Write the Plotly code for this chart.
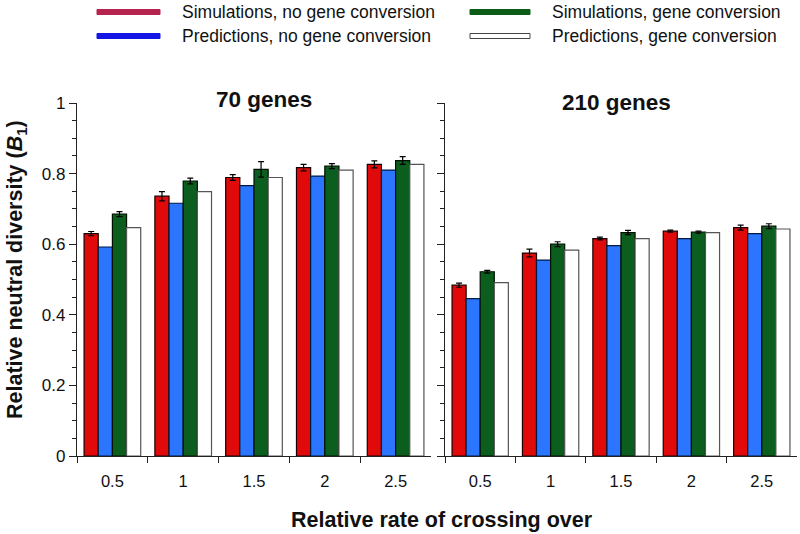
import plotly.graph_objects as go

categories = ["0.5", "1", "1.5", "2", "2.5"]

# 70 genes panel
sim_noGC_70 = [0.630, 0.736, 0.789, 0.817, 0.826]
sim_noGC_70_err = [0.006, 0.013, 0.008, 0.009, 0.010]
pred_noGC_70 = [0.592, 0.716, 0.766, 0.793, 0.810]
sim_GC_70 = [0.685, 0.779, 0.812, 0.821, 0.837]
sim_GC_70_err = [0.007, 0.008, 0.022, 0.007, 0.011]
pred_GC_70 = [0.647, 0.749, 0.789, 0.810, 0.826]

# 210 genes panel
sim_noGC_210 = [0.484, 0.575, 0.616, 0.637, 0.647]
sim_noGC_210_err = [0.006, 0.011, 0.004, 0.003, 0.007]
pred_noGC_210 = [0.446, 0.555, 0.596, 0.616, 0.630]
sim_GC_210 = [0.522, 0.600, 0.633, 0.634, 0.651]
sim_GC_210_err = [0.004, 0.007, 0.006, 0.003, 0.007]
pred_GC_210 = [0.491, 0.583, 0.616, 0.633, 0.643]

legend_labels = ["Simulations, no gene conversion", "Predictions, no gene conversion",
                 "Simulations, gene conversion", "Predictions, gene conversion"]

RED = "#E00A0A"
BLUE = "#2B75FF"
GREEN = "#0B5E1E"
WHITE = "#FFFFFF"
FONT = "Liberation Sans, Arial, sans-serif"

W, H = 800, 534
TOP, BOT = 103, 456  # pixel rows of y=1 and y=0


def px_x(p):
    return p / W


def px_y(p):
    return (BOT - p) / (BOT - TOP)


fig = go.Figure()


def add_panel(xa, ya, simn, simn_e, predn, simg, simg_e, predg):
    specs = [
        (simn, simn_e, RED, "#1a0000"),
        (predn, None, BLUE, "#001a40"),
        (simg, simg_e, GREEN, "#001000"),
        (predg, None, WHITE, "#555555"),
    ]
    for vals, err, col, lc in specs:
        kw = {}
        if err is not None:
            kw["error_y"] = dict(type="data", array=err, visible=True,
                                 color="#000000", thickness=1.2, width=3)
        fig.add_trace(go.Bar(x=categories, y=vals, xaxis=xa, yaxis=ya,
                             marker=dict(color=col, line=dict(color=lc, width=1.2)),
                             showlegend=False, hoverinfo="y", **kw))


add_panel("x", "y", sim_noGC_70, sim_noGC_70_err, pred_noGC_70,
          sim_GC_70, sim_GC_70_err, pred_GC_70)
add_panel("x2", "y2", sim_noGC_210, sim_noGC_210_err, pred_noGC_210,
          sim_GC_210, sim_GC_210_err, pred_GC_210)

xcommon = dict(type="category", showline=True, linecolor="#222", linewidth=1.2,
               ticks="outside", tickson="boundaries", ticklen=6, tickcolor="#222",
               tickwidth=1.2, tickfont=dict(family=FONT, size=16.5, color="#111"),
               ticklabelstandoff=10, showgrid=False, zeroline=False,
               range=[-0.5, 4.5], fixedrange=True, automargin=False)
ycommon = dict(range=[0, 1], showline=True, linecolor="#222", linewidth=1.2,
               ticks="outside", ticklen=7, tickwidth=1.2, tickcolor="#222",
               dtick=0.2, tick0=0, showgrid=False, zeroline=False,
               minor=dict(dtick=0.05, ticks="outside", ticklen=4, tickcolor="#222", tickwidth=1),
               tickfont=dict(family=FONT, size=17, color="#111"), fixedrange=True,
               automargin=False)

fig.update_layout(
    width=W, height=H,
    margin=dict(l=0, r=0, t=TOP, b=H - BOT),
    paper_bgcolor="white", plot_bgcolor="white",
    barmode="group", bargap=0.2, bargroupgap=0,
    showlegend=False,
    xaxis=dict(domain=[px_x(77), px_x(431)], anchor="y", **xcommon),
    xaxis2=dict(domain=[px_x(445), px_x(797)], anchor="y2", **xcommon),
    yaxis=dict(anchor="x", **ycommon),
    yaxis2=dict(anchor="x2", showticklabels=False, **ycommon),
)

annotations = [
    dict(text="<b>70 genes</b>", x=px_x(264), y=px_y(100), font=dict(size=22.5)),
    dict(text="<b>210 genes</b>", x=px_x(616), y=px_y(102), font=dict(size=22.5)),
    dict(text="<b>Relative rate of crossing over</b>", x=px_x(442), y=px_y(520),
         font=dict(size=21.5)),
    dict(text="<b>Relative neutral diversity (<i>B</i><sub>1</sub>)</b>", x=px_x(16),
         y=px_y(270), textangle=-90, font=dict(size=21.5)),
]
for a in annotations:
    a.update(xref="paper", yref="paper", showarrow=False, xanchor="center", yanchor="middle")
    a["font"].update(family=FONT, color="#111")
    fig.add_annotation(**a)

# legend drawn manually (line swatches)
legend_items = [
    (legend_labels[0], 97, 160, 12, "#B5234F", "#B5234F"),
    (legend_labels[1], 97, 160, 36, "#1515E5", "#1515E5"),
    (legend_labels[2], 470, 530, 12, "#0C5C17", "#0C5C17"),
    (legend_labels[3], 470, 530, 36, "#FFFFFF", "#444444"),
]
for label, x0, x1, yc, fill, line in legend_items:
    fig.add_shape(type="rect", xref="paper", yref="paper",
                  x0=px_x(x0), x1=px_x(x1), y0=px_y(yc + 2.5), y1=px_y(yc - 2.5),
                  fillcolor=fill, line=dict(color=line, width=1))
    fig.add_annotation(text=label, xref="paper", yref="paper", x=px_x(x1 + 20), y=px_y(yc),
                       xanchor="left", yanchor="middle", showarrow=False,
                       font=dict(family=FONT, size=17.5, color="#111"))

fig.write_html("out.html", config={"displayModeBar": False},
               post_script="document.body.style.margin='0px';")
